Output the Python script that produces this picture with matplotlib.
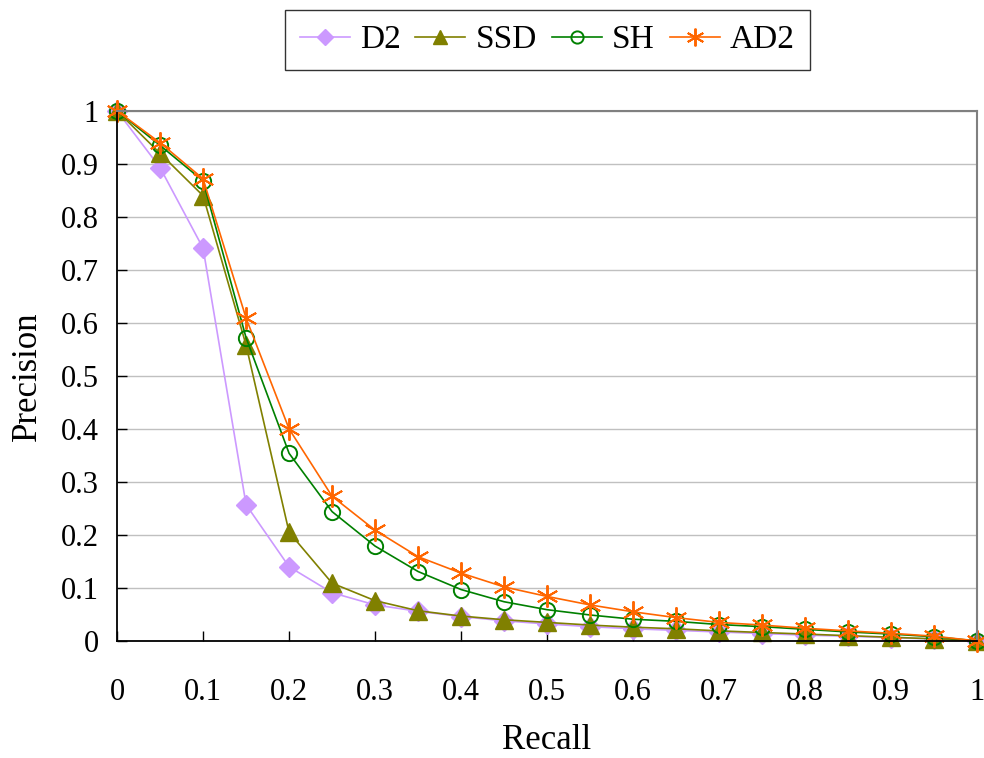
import matplotlib
matplotlib.use("Agg")
import matplotlib.pyplot as plt

# Precision / recall curves
recall = [0, 0.05, 0.1, 0.15, 0.2, 0.25, 0.3, 0.35, 0.4, 0.45, 0.5,
          0.55, 0.6, 0.65, 0.7, 0.75, 0.8, 0.85, 0.9, 0.95, 1.0]
d2 = [1.0, 0.893, 0.741, 0.257, 0.140, 0.091, 0.068, 0.056, 0.046, 0.038, 0.032,
      0.027, 0.023, 0.020, 0.017, 0.014, 0.011, 0.009, 0.006, 0.004, 0.0]
ssd = [1.0, 0.92, 0.84, 0.558, 0.205, 0.109, 0.076, 0.057, 0.047, 0.040, 0.035,
       0.030, 0.026, 0.023, 0.019, 0.016, 0.013, 0.010, 0.007, 0.004, 0.0]
sh = [1.0, 0.935, 0.868, 0.572, 0.354, 0.244, 0.179, 0.131, 0.097, 0.074, 0.059,
      0.049, 0.041, 0.037, 0.031, 0.027, 0.022, 0.017, 0.013, 0.008, 0.0]
ad2 = [1.0, 0.94, 0.872, 0.609, 0.400, 0.273, 0.209, 0.159, 0.128, 0.102, 0.084,
       0.068, 0.055, 0.044, 0.035, 0.030, 0.024, 0.019, 0.0145, 0.009, 0.0]

series = [
    ("D2", d2, dict(color="#CC99FF", marker="D", markersize=10,
                    markerfacecolor="#CC99FF", markeredgecolor="#CC99FF")),
    ("SSD", ssd, dict(color="#808000", marker="^", markersize=13,
                      markerfacecolor="#808000", markeredgecolor="#808000")),
    ("SH", sh, dict(color="#008000", marker="o", markersize=11,
                    markerfacecolor="none", markeredgecolor="#008000", markeredgewidth=1.4)),
    ("AD2", ad2, dict(color="#FF6600", marker=(6, 2, 0), markersize=16,
                      markeredgecolor="#FF6600", markeredgewidth=1.4)),
]

plt.rcParams["font.family"] = ["Liberation Serif", "DejaVu Serif"]

fig = plt.figure(figsize=(9.84, 7.58), dpi=100)
ax = fig.add_axes([0.119, 0.1544, 0.874, 0.6992])

for name, vals, style in series:
    ax.plot(recall, vals, label=name, linewidth=1.2, clip_on=False, **style)

ax.set_xlim(0, 1)
ax.set_ylim(0, 1)
ax.set_xticks([i / 10 for i in range(11)])
ax.set_yticks([i / 10 for i in range(11)])
ax.set_xticklabels(["0"] + [f"{i/10:g}" for i in range(1, 10)] + ["1"])
ax.set_yticklabels(["0"] + [f"{i/10:g}" for i in range(1, 10)] + ["1"])
ax.tick_params(axis="x", direction="in", length=7, width=1, pad=27, labelsize=22)
ax.tick_params(axis="y", direction="in", length=7, width=1, pad=13, labelsize=22)

ax.yaxis.grid(True, color="#C0C0C0", linewidth=1)
ax.set_axisbelow(True)
ax.spines["left"].set_color("black")
ax.spines["bottom"].set_color("black")
ax.spines["left"].set_linewidth(1.3)
ax.spines["bottom"].set_linewidth(1.3)
ax.spines["top"].set_color("#808080")
ax.spines["right"].set_color("#808080")
ax.spines["top"].set_linewidth(1.5)
ax.spines["right"].set_linewidth(1.5)

ax.set_xlabel("Recall", fontsize=25, labelpad=12)
ax.set_ylabel("Precision", fontsize=25, labelpad=12)

leg = fig.legend(loc="center", bbox_to_anchor=(0.556, 0.947), ncol=4, fontsize=24,
                 frameon=True, fancybox=False, edgecolor="black", handlelength=1.5,
                 handletextpad=0.3, columnspacing=0.45, borderpad=0.45, markerscale=0.8)
leg.get_frame().set_linewidth(1.0)

fig.savefig("out.png", dpi=100)
